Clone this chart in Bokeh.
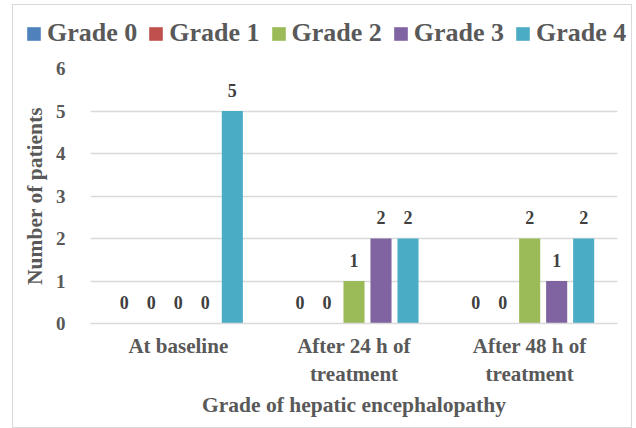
from bokeh.plotting import figure
from bokeh.layouts import column
from bokeh.models import (ColumnDataSource, FactorRange, Range1d, FixedTicker,
                          LabelSet, Legend)
from bokeh.transform import dodge
from bokeh.embed import file_html
from bokeh.resources import INLINE

# Patients per hepatic encephalopathy grade at each time point
categories = ["At baseline", "After 24 h of\ntreatment", "After 48 h of\ntreatment"]
grades = ["Grade 0", "Grade 1", "Grade 2", "Grade 3", "Grade 4"]
grade_0 = [0, 0, 0]
grade_1 = [0, 0, 0]
grade_2 = [0, 1, 2]
grade_3 = [0, 2, 1]
grade_4 = [5, 2, 2]
y_ticks = [0, 1, 2, 3, 4, 5, 6]

colors = ["#4F81BD", "#C0504D", "#9BBB59", "#8064A2", "#4BACC6"]
series = [grade_0, grade_1, grade_2, grade_3, grade_4]

FONT = "Liberation Serif"
TEXT = "#595959"
GRID = "#D9D9D9"

source = ColumnDataSource(dict(cat=categories,
                               **{g: v for g, v in zip(grades, series)}))

# ---- legend strip across the top --------------------------------------
lfig = figure(width=618, height=50, x_range=Range1d(0, 1), y_range=Range1d(0, 1),
              output_backend="svg", toolbar_location=None,
              x_axis_location=None, y_axis_location=None,
              min_border_left=0, min_border_right=0,
              min_border_top=0, min_border_bottom=0)
lfig.frame_align = False
lfig.grid.visible = False
lfig.outline_line_color = None
items = []
for g, c in zip(grades, colors):
    # zero-height swatch renderer, only used for the legend key
    r = lfig.vbar(x=[0.5], top=[0], width=0, fill_color=c, line_color=None)
    items.append((g, [r]))
lg = Legend(items=items, orientation="horizontal", location=(12, 7),
            label_text_font=FONT, label_text_font_style="bold",
            label_text_font_size="26px", label_text_color=TEXT,
            glyph_width=17, glyph_height=17, label_standoff=5, spacing=10,
            padding=0, margin=0, border_line_color=None,
            background_fill_alpha=0)
lfig.add_layout(lg)

# ---- main chart ---------------------------------------------------------
p = figure(x_range=FactorRange(*categories), y_range=Range1d(0, 6),
           width=618, height=372, output_backend="svg", toolbar_location=None,
           min_border_left=77, min_border_right=14,
           min_border_top=13, min_border_bottom=104)
p.frame_align = False

step = 0.1537
bar_w = 0.12
for i, (g, c) in enumerate(zip(grades, colors)):
    off = (i - 2) * step
    p.vbar(x=dodge("cat", off, range=p.x_range), top=g, width=bar_w,
           source=source, fill_color=c, line_color=None)
    p.add_layout(LabelSet(x=dodge("cat", off, range=p.x_range), y=g, text=g,
                          source=source, y_offset=21, text_align="center",
                          text_baseline="middle", text_font=FONT,
                          text_font_size="18px", text_font_style="bold",
                          text_color="#404040"))

p.yaxis.ticker = FixedTicker(ticks=y_ticks)
p.yaxis.axis_label = "Number of patients"
p.xaxis.axis_label = "Grade of hepatic encephalopathy"
for ax in (p.xaxis[0], p.yaxis[0]):
    ax.major_tick_line_color = None
    ax.minor_tick_line_color = None
    ax.major_label_text_font = FONT
    ax.major_label_text_font_style = "bold"
    ax.major_label_text_color = TEXT
    ax.axis_label_text_font = FONT
    ax.axis_label_text_font_style = "bold"
    ax.axis_label_text_color = TEXT
    ax.axis_label_text_font_size = "21.5px"
p.yaxis.major_label_text_font_size = "19px"
p.xaxis.major_label_text_font_size = "21px"
p.yaxis.axis_line_color = None
p.xaxis.axis_line_color = GRID
p.xaxis.axis_line_width = 1.5
p.yaxis.major_label_standoff = 19
p.yaxis.axis_label_standoff = 6
p.xaxis.major_label_standoff = 4
p.xaxis.axis_label_standoff = 4

p.xgrid.grid_line_color = None
p.ygrid.grid_line_color = GRID
p.ygrid.grid_line_width = 1.5
p.outline_line_color = None

# whole chart framed by a thin grey border
layout = column(lfig, p)
layout.margin = (4, 0, 0, 12)
layout.styles = {"border": "1px solid #D9D9D9"}

open("out.html", "w").write(file_html(layout, INLINE))
